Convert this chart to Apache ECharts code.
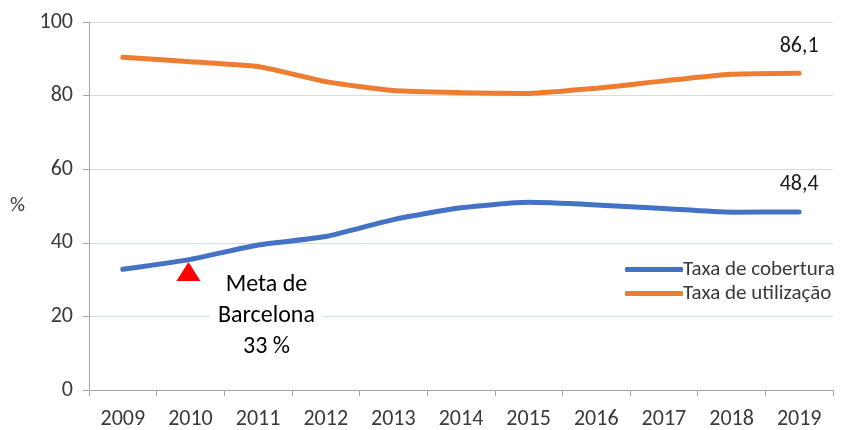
<!DOCTYPE html>
<html>
<head>
<meta charset="utf-8">
<script src="https://cdn.jsdelivr.net/npm/echarts@6/dist/echarts.min.js"></script>
<style>
	html,body{margin:0;padding:0;background:#fff;}
	#chart{width:848px;height:430px;}
</style>
</head>
<body>
<div id="chart"></div>
<script>
var anos = ['2009','2010','2011','2012','2013','2014','2015','2016','2017','2018','2019'];
var cobertura = [32.8, 35.5, 39.4, 41.7, 46.3, 49.5, 51.0, 50.3, 49.3, 48.3, 48.4];
var utilizacao = [90.4, 89.2, 87.9, 83.8, 81.4, 80.8, 80.6, 82.0, 84.0, 85.8, 86.1];
var meta = [['2010', 33]];
var etiquetaFinal = ['48,4', '86,1'];

var fonte = 'Calibri, Carlito, "Liberation Sans", sans-serif';
var cinza = '#3a3a3a';

var chart = echarts.init(document.getElementById('chart'));

// só o último ponto leva rótulo
function ultimoRotulo(valores, texto) {
	return valores.map(function (v, i) {
		if (i !== valores.length - 1) return v;
		return {
			value: v,
			label: {
				show: true,
				position: 'top',
				distance: 16,
				formatter: texto,
				fontSize: 22,
				fontFamily: fonte,
				color: '#1a1a1a'
			}
		};
	});
}

var option = {
	animation: false,
	grid: {
		left: 89,
		right: 15,
		top: 22,
		bottom: 39
	},
	legend: {
		orient: 'vertical',
		left: 620,
		top: 254,
		itemWidth: 58,
		itemHeight: 5,
		itemGap: 3,
		icon: 'roundRect',
		textStyle: {
			fontSize: 21,
			fontFamily: fonte,
			color: cinza,
			padding: [0, 0, 0, -5]
		},
		data: ['Taxa de cobertura', 'Taxa de utilização']
	},
	xAxis: {
		type: 'category',
		boundaryGap: true,
		data: anos,
		axisLine: {lineStyle: {color: '#a6a6a6', width: 1}},
		axisTick: {show: true, length: 6, alignWithLabel: false, lineStyle: {color: '#a6a6a6'}},
		axisLabel: {
			margin: 18,
			fontSize: 22,
			fontFamily: fonte,
			color: cinza
		},
		splitLine: {show: false}
	},
	yAxis: {
		type: 'value',
		min: 0,
		max: 100,
		interval: 20,
		name: '%',
		nameLocation: 'middle',
		nameRotate: 0,
		nameGap: 64,
		nameTextStyle: {fontSize: 21, fontFamily: fonte, color: cinza},
		axisLine: {show: true, lineStyle: {color: '#a6a6a6', width: 1}},
		axisTick: {show: true, length: 6, lineStyle: {color: '#a6a6a6'}},
		axisLabel: {
			margin: 16,
			fontSize: 22,
			fontFamily: fonte,
			color: cinza
		},
		splitLine: {lineStyle: {color: '#d4ddf0', width: 1}}
	},
	series: [
		{
			name: 'Taxa de cobertura',
			type: 'line',
			data: ultimoRotulo(cobertura, etiquetaFinal[0]),
			smooth: 0.2,
			symbol: 'circle',
			symbolSize: 0,
			showSymbol: true,
			color: '#4472c4',
			lineStyle: {width: 5, cap: 'round', join: 'round'},
			z: 3
		},
		{
			name: 'Taxa de utilização',
			type: 'line',
			data: ultimoRotulo(utilizacao, etiquetaFinal[1]),
			smooth: 0.2,
			symbol: 'circle',
			symbolSize: 0,
			showSymbol: true,
			color: '#ed7d31',
			lineStyle: {width: 5, cap: 'round', join: 'round'},
			z: 3
		},
		{
			name: 'Meta',
			type: 'scatter',
			data: meta,
			symbol: 'triangle',
			symbolSize: [24, 19],
			symbolOffset: [-2, 3],
			itemStyle: {color: '#ff0000', opacity: 1},
			z: 4,
			label: {
				show: true,
				position: 'bottom',
				offset: [78, -17],
				formatter: 'Meta de\nBarcelona\n33 %',
				align: 'center',
				fontSize: 24,
				lineHeight: 31,
				fontFamily: fonte,
				color: '#000000',
				backgroundColor: '#ffffff',
				padding: [0, 8, 0, 8]
			}
		}
	]
};

chart.setOption(option);
</script>
</body>
</html>
